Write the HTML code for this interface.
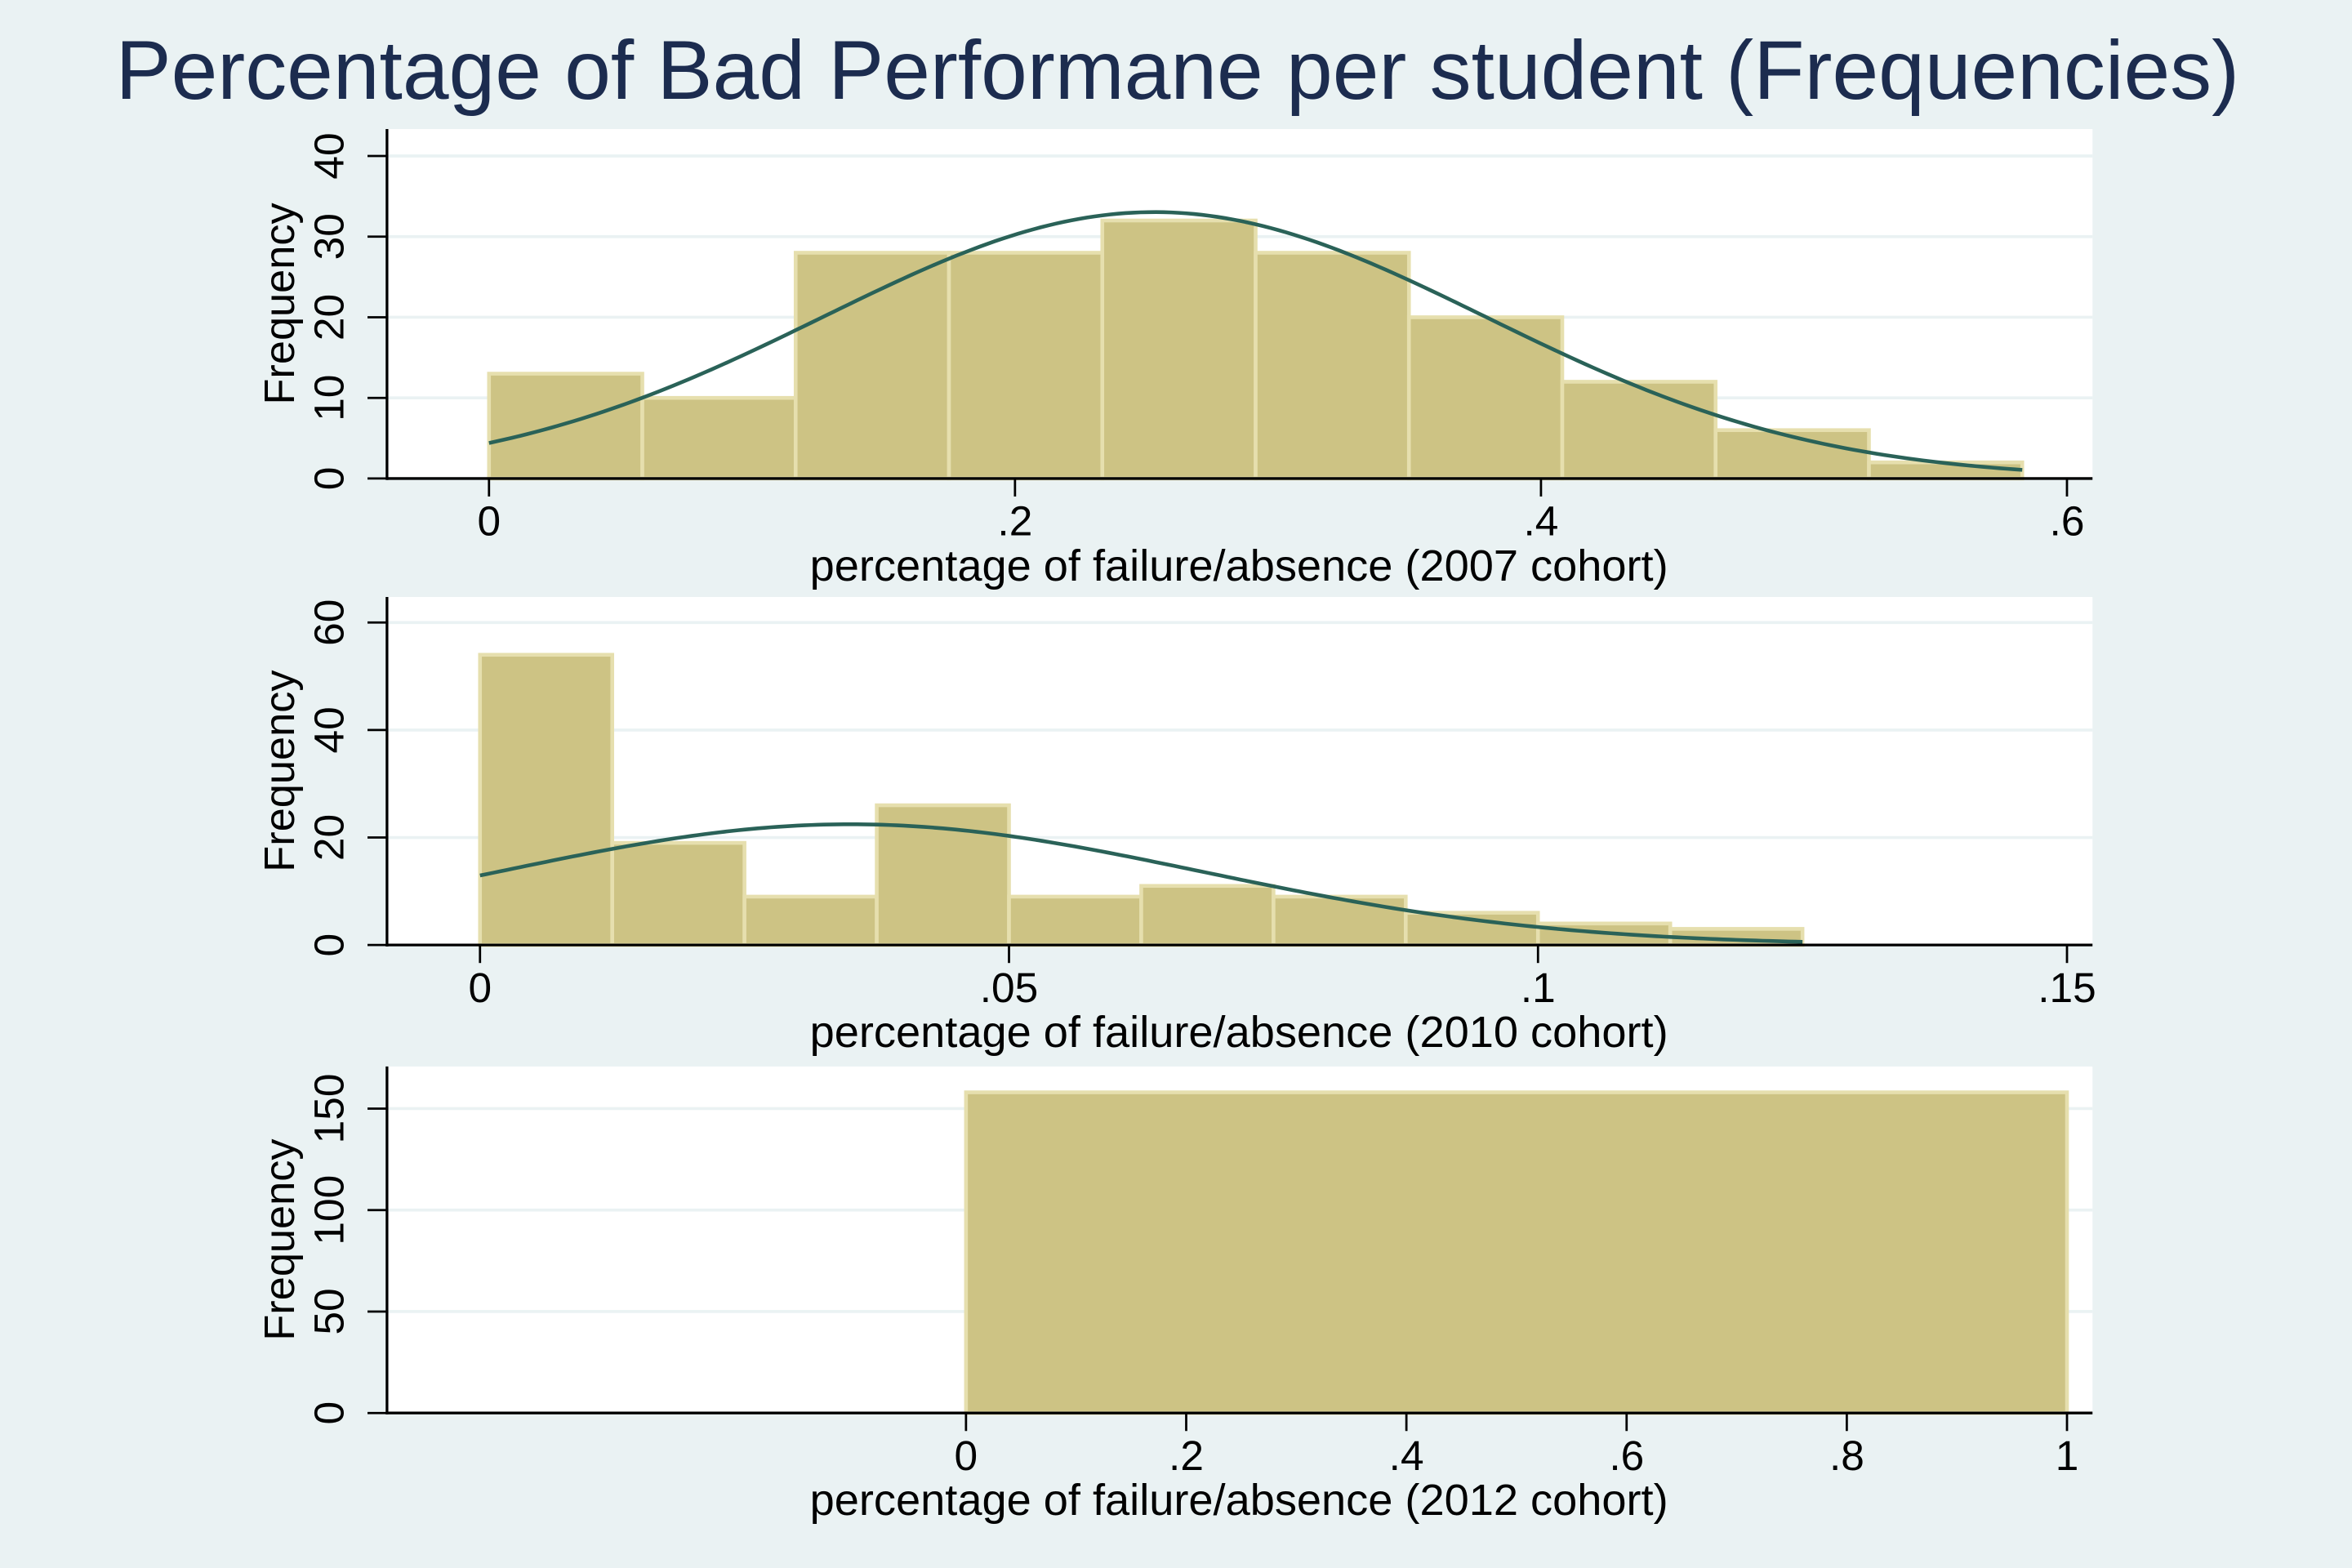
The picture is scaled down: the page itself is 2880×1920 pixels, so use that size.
<!DOCTYPE html>
<html><head><meta charset="utf-8">
<style>
html,body{margin:0;padding:0;background:#eaf2f3;}
svg{display:block;font-family:"Liberation Sans",sans-serif;}
</style></head>
<body>
<svg id="chart" xmlns="http://www.w3.org/2000/svg" width="2880" height="1920" viewBox="0 0 1568 1045.33">
<rect x="0" y="0" width="1568" height="1046" fill="#eaf2f3"/>
<text x="785" y="66" text-anchor="middle" font-size="55.5" fill="#1c2c4f">Percentage of Bad Performane per student (Frequencies)</text>
</svg>
<script>
// Panel 1 (2007 cohort)
const bins2007Start = 0;
const bins2007Width = 0.0583;
const freq2007 = [13, 10, 28, 28, 32, 28, 20, 12, 6, 2];
const yTicks2007 = [0, 10, 20, 30, 40];
const xTicks2007 = [0, 0.2, 0.4, 0.6];
const xLabels2007 = ["0", ".2", ".4", ".6"];
const norm2007 = [0.253, 0.126];
// Panel 2 (2010 cohort)
const bins2010Start = 0;
const bins2010Width = 0.0125;
const freq2010 = [54, 19, 9, 26, 9, 11, 9, 6, 4, 3];
const yTicks2010 = [0, 20, 40, 60];
const xTicks2010 = [0, 0.05, 0.1, 0.15];
const xLabels2010 = ["0", ".05", ".1", ".15"];
const norm2010 = [0.035, 0.0333];
// Panel 3 (2012 cohort)
const bins2012Start = 0;
const bins2012Width = 1;
const freq2012 = [158];
const yTicks2012 = [0, 50, 100, 150];
const xTicks2012 = [0, 0.2, 0.4, 0.6, 0.8, 1];
const xLabels2012 = ["0", ".2", ".4", ".6", ".8", "1"];

const NS = "http://www.w3.org/2000/svg";
const svg = document.getElementById("chart");
function mk(tag, attrs, parent){
  const e = document.createElementNS(NS, tag);
  for (const k in attrs) e.setAttribute(k, attrs[k]);
  (parent||svg).appendChild(e);
  return e;
}

function panel(o){
  const g = mk("g", {});
  
  
  const L = 258, R = 1395;
  const sx = v => o.x0 + (v - o.xmin0) * o.xs;
  const sy = v => o.y0 - v * o.ys;
  const plot = mk("rect", {x:L, y:o.top, width:R-L, height:o.y0-o.top, fill:"#ffffff"}, g);
  
  
  o.yTicks.forEach(t => {
    if (t === 0) return;
    const gl = mk("line", {x1:L, x2:R, y1:sy(t), y2:sy(t), stroke:"#eaf2f3", "stroke-width":2}, g);
    
    
  });
  o.freq.forEach((f, i) => {
    const a = o.start + i * o.width, b = a + o.width;
    const r = mk("rect", {x:sx(a), y:sy(f), width:sx(b)-sx(a), height:sy(0)-sy(f), fill:"#cdc384", stroke:"#e6dfae", "stroke-width":2.5}, g);
    
    
  });
  if (o.norm) {
    const N = o.freq.reduce((s, v) => s + v, 0);
    const [mu, sd] = o.norm;
    const x1 = o.start, x2 = o.start + o.width * o.freq.length;
    let d = "";
    for (let k = 0; k <= 200; k++) {
      const x = x1 + (x2 - x1) * k / 200;
      const y = N * o.width / (sd * Math.sqrt(2 * Math.PI)) * Math.exp(-((x - mu) ** 2) / (2 * sd * sd));
      d += (k ? "L" : "M") + sx(x).toFixed(2) + "," + sy(y).toFixed(2);
    }
    const p = mk("path", {d:d, fill:"none", stroke:"#2a6258", "stroke-width":2.5}, g);
    
    
  }
  const ya = mk("line", {x1:L, x2:L, y1:o.top, y2:o.y0+1, stroke:"#000", "stroke-width":1.8}, g);
  
  
  const xa = mk("line", {x1:L, x2:R, y1:o.y0, y2:o.y0, stroke:"#000", "stroke-width":1.8}, g);
  
  
  o.yTicks.forEach(t => {
    const tk = mk("line", {x1:245, x2:L, y1:sy(t), y2:sy(t), stroke:"#000", "stroke-width":1.5}, g);
    
    
    const tx = mk("text", {x:0, y:0, "text-anchor":"middle", "font-size":28, fill:"#000", transform:"translate(229," + sy(t) + ") rotate(-90)"}, g);
    tx.textContent = String(t);
    
    
  });
  o.xTicks.forEach((t, i) => {
    const tk = mk("line", {x1:sx(t), x2:sx(t), y1:o.y0, y2:o.y0+12, stroke:"#000", "stroke-width":1.5}, g);
    
    
    const tx = mk("text", {x:sx(t), y:o.y0+38, "text-anchor":"middle", "font-size":28, fill:"#000"}, g);
    tx.textContent = o.xLabels[i];
    
    
  });
  const yl = mk("text", {x:0, y:0, "text-anchor":"middle", "font-size":28.5, fill:"#000", transform:"translate(196," + ((o.top + o.y0) / 2) + ") rotate(-90)"}, g);
  yl.textContent = "Frequency";
  
  
  const xl = mk("text", {x:826, y:o.y0+68, "text-anchor":"middle", "font-size":29.5, fill:"#000"}, g);
  xl.textContent = o.xTitle;
  
  
}

panel({id:"2007", top:86, y0:319, ys:5.375, x0:326, xmin0:0, xs:1753.3,
  start:bins2007Start, width:bins2007Width, freq:freq2007, yTicks:yTicks2007, xTicks:xTicks2007, xLabels:xLabels2007,
  norm:norm2007, xTitle:"percentage of failure/absence (2007 cohort)"});
panel({id:"2010", top:398, y0:630, ys:3.583, x0:320, xmin0:0, xs:7053.3,
  start:bins2010Start, width:bins2010Width, freq:freq2010, yTicks:yTicks2010, xTicks:xTicks2010, xLabels:xLabels2010,
  norm:norm2010, xTitle:"percentage of failure/absence (2010 cohort)"});
panel({id:"2012", top:711, y0:942, ys:1.353, x0:644, xmin0:0, xs:734,
  start:bins2012Start, width:bins2012Width, freq:freq2012, yTicks:yTicks2012, xTicks:xTicks2012, xLabels:xLabels2012,
  norm:null, xTitle:"percentage of failure/absence (2012 cohort)"});
</script>
</body></html>
